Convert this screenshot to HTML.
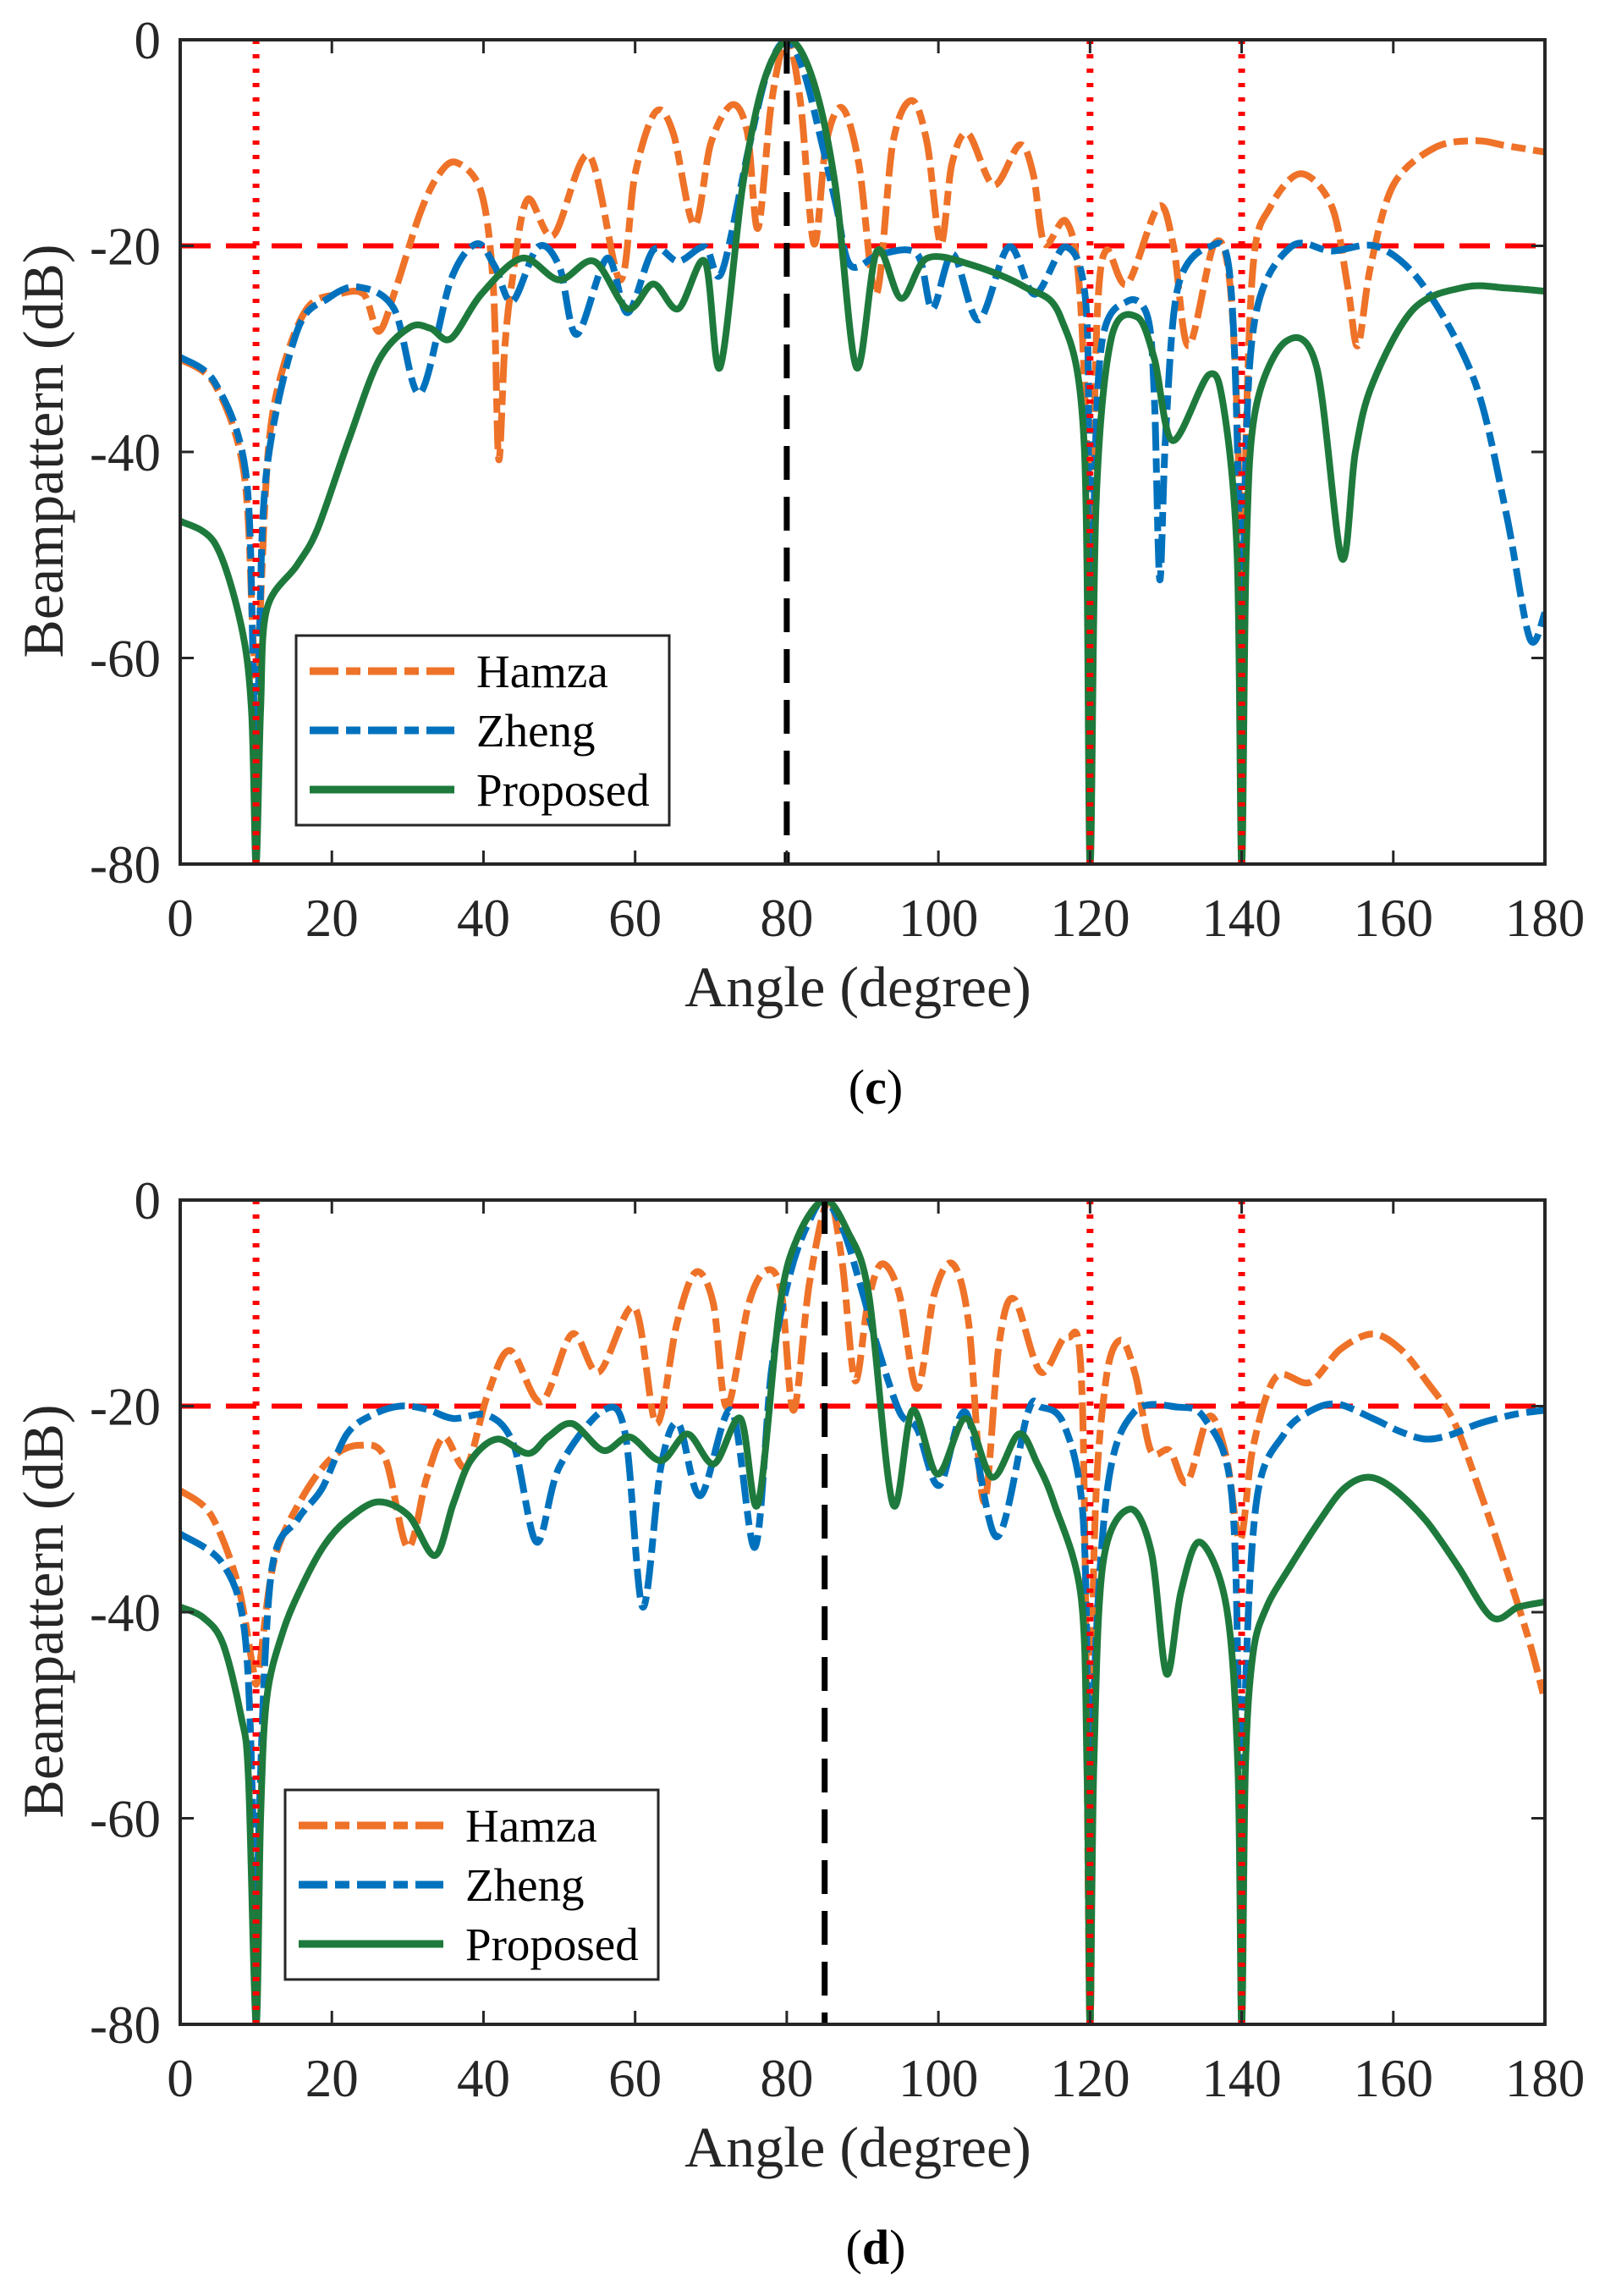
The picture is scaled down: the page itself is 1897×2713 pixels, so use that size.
<!DOCTYPE html>
<html><head><meta charset="utf-8">
<style>
html,body{margin:0;padding:0;background:#fff;}
svg{display:block;font-family:"Liberation Serif",serif;}
</style></head>
<body>
<svg id="chart" width="1897" height="2713" viewBox="0 0 1897 2713" xmlns="http://www.w3.org/2000/svg"></svg>
<script>
// ---------- data ----------
const xTicks = [0,20,40,60,80,100,120,140,160,180];
const yTicks = [0,-20,-40,-60,-80];
const nullAngles = [10,120,140];
const threshold = -20;
const steerC = 80;
const steerD = 85;

const hamzaC = [[0,-31],[4.6,-33.5],[8.4,-42],[9.6,-58],[10,-62],[10.4,-58],[11.6,-40],[13.5,-32],[16.8,-26],[20.8,-24.7],[24.2,-24.7],[26.2,-28.3],[28.5,-24],[31.6,-16.9],[34,-13.2],[36.4,-11.9],[39.7,-14.8],[41.3,-24],[42,-40.7],[42.8,-30],[43.8,-23.3],[45.8,-15.5],[49.2,-19],[53.9,-11.2],[58,-23.3],[60,-13],[62.7,-7],[65,-9],[67.8,-18],[70,-10],[72.8,-6.3],[74.8,-9],[76.2,-18.3],[78,-6],[80,0],[81.8,-6],[83.6,-19.8],[85.2,-10],[87.3,-6.6],[89.5,-12],[91.8,-24.7],[94,-10],[96.5,-5.9],[98.5,-10],[100.3,-19.8],[101.8,-12],[103.9,-9.1],[107.3,-14.1],[110.7,-10.2],[112.5,-13],[114,-19.8],[116.8,-17.6],[118.6,-24],[119.7,-45],[120,-80],[120.4,-45],[121,-26],[122.2,-20.4],[124.9,-23.7],[129,-16.2],[131,-20],[133,-29.7],[136.4,-19.8],[138.5,-24],[139.7,-45],[140,-80],[140.4,-45],[141.5,-22],[143.8,-16.2],[147.8,-13],[151.9,-16.2],[154,-24],[155.3,-29.7],[157,-22],[160,-14.1],[165.4,-10.5],[170.8,-9.8],[175,-10.3],[180,-10.9]];
const zhengC = [[0,-30.8],[4.6,-33.3],[8.6,-41.8],[9.6,-60],[10,-80],[10.4,-60],[11.4,-41.8],[15.4,-28.3],[19.5,-25.1],[23.5,-24],[28.2,-26.1],[31.6,-34.3],[35.7,-23.3],[39.1,-19.8],[41.5,-22],[43.8,-25.4],[47.2,-20.1],[50,-22],[52.3,-28.6],[56.3,-21.2],[59,-26.5],[62.4,-20.4],[65.7,-21.5],[69.2,-20.1],[71.4,-22.6],[75,-10.5],[77.5,-3],[80,0],[82.2,-3],[84.3,-9],[86.5,-16],[88.4,-21.9],[92.4,-20.8],[97.2,-20.8],[99.2,-26.1],[101.9,-20.8],[105.3,-27.2],[109.3,-20.1],[112.7,-24.7],[116.8,-20.1],[119.5,-26.1],[119.8,-50],[120,-80],[120.4,-50],[121.5,-29.7],[124.9,-25.4],[127.6,-26.9],[128.5,-35],[129.2,-52.4],[130,-38],[131.6,-24],[135.7,-20.1],[138.4,-22.6],[139.6,-45],[140,-80],[140.4,-45],[141.8,-26.9],[146.5,-20.1],[151.9,-20.5],[158,-20.1],[164.1,-24],[170.8,-33.3],[174.9,-46],[178,-58.1],[180,-55.6]];
const proposedC = [[0,-46.7],[4.6,-48.9],[8,-56.7],[9.4,-65],[10,-80],[10.6,-65],[11.4,-55.3],[15.4,-51],[18.1,-47.5],[22.2,-38.9],[26.2,-31.1],[30.3,-27.9],[33,-28],[35.7,-29],[39.7,-24.7],[45.1,-21.2],[50,-23.3],[54.6,-21.5],[59,-26.1],[62.4,-23.7],[65.7,-26.1],[69.2,-21.5],[71.2,-31.8],[74.2,-14.1],[77,-4],[80.3,0],[83.5,-4],[86.4,-14.1],[89.2,-31.8],[91.9,-20.5],[95.1,-25.1],[98.5,-21.2],[104.6,-21.9],[111.4,-24],[116.1,-26.9],[119.2,-38.9],[120,-80],[120.8,-45],[122.8,-29],[126.2,-26.9],[128.5,-31],[130.9,-38.9],[135.7,-32.5],[137.7,-36],[139.4,-50],[140,-80],[140.6,-50],[141.8,-36],[145.8,-29.3],[149.9,-31.8],[153.2,-50.3],[155,-40],[157.3,-33.3],[162.7,-26.1],[169.5,-24],[175,-24.1],[180,-24.4]];

const hamzaD = [[0,-28.2],[4,-30.5],[7.5,-37],[9.5,-45],[10,-47],[10.5,-45],[12.4,-35],[16,-29],[20,-25],[23.7,-23.8],[27,-25],[30,-33.7],[32.5,-27],[34.8,-23],[37.7,-25.9],[40.5,-19],[43.5,-14.6],[47.6,-19.6],[51.7,-13],[55.2,-16.7],[59.9,-10.4],[62.8,-21.7],[65.5,-12],[68,-7],[70.3,-10],[72.1,-20.1],[75,-10],[77.4,-6.8],[79.3,-9],[80.9,-20.4],[83,-8],[85.5,0],[87.3,-6],[89,-17.5],[90.7,-10],[92.5,-6.2],[94.8,-9],[97.2,-18.3],[99.5,-9],[101.9,-6.2],[104,-12],[106,-29.3],[108,-14],[110,-9.6],[113.5,-16.7],[117,-13.3],[119,-20],[120,-80],[120.5,-35],[122,-18],[124,-13.6],[126,-17],[128,-24.3],[130.5,-24.3],[132.8,-27.4],[135.7,-21],[138,-25],[139.8,-33],[141.5,-24],[144.5,-17.2],[149,-17.7],[153,-14.5],[157.3,-13],[161,-14.5],[164.3,-17.5],[168,-21.5],[171.3,-28],[175,-36],[178,-43],[180,-48.6]];
const zhengD = [[0,-32.4],[5.6,-35.3],[8.5,-42],[9.6,-60],[10,-80],[10.4,-60],[12,-36.3],[15.5,-31],[18.7,-28],[22,-22.7],[25.5,-20.8],[29,-20],[32.5,-20.3],[36,-21.2],[40.6,-20.9],[44,-23.8],[47,-33.2],[50,-25.9],[55.8,-20.4],[58.7,-22.7],[61,-39.5],[63.4,-25.9],[65.7,-21.7],[68.6,-28.7],[72.7,-20.4],[75.8,-33.7],[78,-16.4],[80.5,-7],[83,-2],[85,0],[87.5,-3],[90,-9],[92,-14.3],[94.9,-20.6],[97.2,-22.2],[100.1,-27.7],[103.6,-20.6],[107.7,-32.7],[111.8,-20.6],[113.5,-20.1],[116.5,-21.7],[119,-30],[119.7,-50],[120,-80],[120.4,-50],[122.3,-28],[125.8,-20.6],[131.6,-20.1],[135.1,-21.2],[138.6,-28],[139.6,-50],[140,-80],[140.4,-50],[142,-29],[145.6,-22.7],[149,-20.5],[152.6,-19.8],[157.3,-21.2],[161,-22.5],[164.3,-23.2],[167.5,-22.8],[171.3,-21.7],[176,-20.8],[180,-20.4]];
const proposedD = [[0,-39.5],[3,-40.5],[5.6,-43],[8,-50],[9,-56],[10,-80],[10.6,-60],[11.4,-48.4],[13.5,-42],[16.1,-37.4],[19,-33.5],[21.9,-31.1],[26,-29.3],[30.1,-30.6],[33.6,-34.5],[36,-29.5],[38.3,-25.3],[41.8,-23.2],[45.9,-24.6],[48.5,-23],[51.7,-21.7],[55.8,-24.3],[59.3,-23],[63.4,-25.3],[66.9,-22.7],[70.4,-25.6],[73.9,-21.2],[76.2,-29.5],[79.1,-10.2],[81.5,-3.5],[85,0],[88,-3],[90.8,-9.1],[94,-29.5],[96.6,-20.4],[99.9,-26.6],[103.6,-21.2],[107.1,-26.9],[110.6,-22.7],[113,-25.5],[115.3,-29.5],[118.8,-38.4],[119.6,-55],[120,-80],[120.5,-55],[121.7,-35.3],[125.2,-30],[128.1,-34.2],[130.1,-46],[132,-38],[134.5,-33.2],[138,-39.5],[139.5,-55],[140,-80],[140.5,-55],[141.5,-44],[143.3,-39.5],[146.2,-35.8],[150.3,-31.1],[153.5,-28],[156.7,-26.9],[160,-28],[164.3,-31.1],[168.5,-35.5],[173,-40.5],[176.5,-39.5],[180,-39]];

// ---------- drawing ----------
const NS = "http://www.w3.org/2000/svg";
const svg = document.getElementById("chart");
function mk(tag, attrs, parent){
  const e = document.createElementNS(NS, tag);
  for (const k in attrs) e.setAttribute(k, attrs[k]);
  (parent||svg).appendChild(e);
  return e;
}
function smoothPath(pts){
  let d = "M" + pts[0][0].toFixed(1) + "," + pts[0][1].toFixed(1);
  for (let i=0;i<pts.length-1;i++){
    const p0 = pts[Math.max(0,i-1)], p1 = pts[i], p2 = pts[i+1], p3 = pts[Math.min(pts.length-1,i+2)];
    const t = 0.16;
    const c1x = p1[0]+(p2[0]-p0[0])*t, c1y = p1[1]+(p2[1]-p0[1])*t;
    const c2x = p2[0]-(p3[0]-p1[0])*t, c2y = p2[1]-(p3[1]-p1[1])*t;
    d += " C"+c1x.toFixed(1)+","+c1y.toFixed(1)+" "+c2x.toFixed(1)+","+c2y.toFixed(1)+" "+p2[0].toFixed(1)+","+p2[1].toFixed(1);
  }
  return d;
}

const L = 213, R = 1826, PH = 974;
const ORANGE = "#EE7228", BLUE = "#0072BD", GREEN = "#1E7A3C", AX = "#262626";

function drawPlot(id, top, steer, hamza, zheng, proposed, legX, legY, letter){
  const B = top + PH;
  const xs = a => L + (a/180)*(R-L);
  const ys = v => top + (-v/80)*PH;
  const g = mk("g", {});
  
  
  const clipId = "clip"+id;
  const cp = mk("clipPath", {id: clipId}, g);
  mk("rect", {x:L, y:top, width:R-L, height:PH}, cp);

  const th = mk("line", {x1:L, x2:R, y1:ys(threshold), y2:ys(threshold), stroke:"#FF0000", "stroke-width":6, "stroke-dasharray":"36 18"}, g);
  
  

  const series = [
    {d:hamza, c:ORANGE, dash:"34 9 17 9", n:"hamza-line"},
    {d:zheng, c:BLUE, dash:"34 9 17 9", n:"zheng-line"},
    {d:proposed, c:GREEN, dash:null, n:"proposed-line"}
  ];
  series.forEach(s=>{
    const pts = s.d.map(p=>[xs(p[0]), ys(p[1])]);
    const attrs = {d:smoothPath(pts), fill:"none", stroke:s.c, "stroke-width":8, "stroke-linejoin":"round", "clip-path":"url(#"+clipId+")"};
    if (s.dash) attrs["stroke-dasharray"] = s.dash;
    const p = mk("path", attrs, g);
    
    
  });
  nullAngles.forEach(a=>{
    const l = mk("line", {x1:xs(a), x2:xs(a), y1:top, y2:B, stroke:"#FF0000", "stroke-width":8, "stroke-dasharray":"5 12"}, g);
    
    
  });
  const st = mk("line", {x1:xs(steer), x2:xs(steer), y1:top, y2:B, stroke:"#000", "stroke-width":7, "stroke-dasharray":"40 20"}, g);
  
  

  const fr = mk("rect", {x:L, y:top, width:R-L, height:PH, fill:"none", stroke:AX, "stroke-width":4}, g);
  
  
  xTicks.forEach(t=>{
    const x = xs(t);
    mk("line", {x1:x, x2:x, y1:B, y2:B-16, stroke:AX, "stroke-width":3}, g);
    mk("line", {x1:x, x2:x, y1:top, y2:top+16, stroke:AX, "stroke-width":3}, g);
    const tx = mk("text", {x:x, y:B+85, "font-size":63, fill:AX, "text-anchor":"middle"}, g);
    tx.textContent = t;
    
    
  });
  yTicks.forEach(t=>{
    const y = ys(t);
    mk("line", {x1:L, x2:L+16, y1:y, y2:y, stroke:AX, "stroke-width":3}, g);
    mk("line", {x1:R, x2:R-16, y1:y, y2:y, stroke:AX, "stroke-width":3}, g);
    const ty = mk("text", {x:190, y:y+22, "font-size":63, fill:AX, "text-anchor":"end"}, g);
    ty.textContent = t;
    
    
  });
  const xt = mk("text", {x:1014, y:B+168, "font-size":68, fill:AX, "text-anchor":"middle"}, g);
  xt.textContent = "Angle (degree)";
  
  
  const yt = mk("text", {x:0, y:0, "font-size":68, fill:AX, "text-anchor":"middle", transform:"translate(74,"+(top+486)+") rotate(-90)"}, g);
  yt.textContent = "Beampattern (dB)";
  
  

  const lg = mk("g", {}, g);
  
  
  mk("rect", {x:legX, y:legY, width:441, height:224, fill:"#fff", stroke:AX, "stroke-width":3}, lg);
  const names = ["Hamza","Zheng","Proposed"];
  series.forEach((s,i)=>{
    const yy = legY + 42 + i*70;
    const la = {x1:legX+16, x2:legX+187, y1:yy, y2:yy, stroke:s.c, "stroke-width":9};
    if (s.dash) la["stroke-dasharray"] = "34 9 17 9";
    mk("line", la, lg);
    const lt = mk("text", {x:legX+213, y:yy+19, "font-size":55, fill:"#000"}, lg);
    lt.textContent = names[i];
    
    
  });

  const cap = mk("text", {x:1035, y:B+283, "font-size":58, fill:"#000", "text-anchor":"middle"}, g);
  
  
  const t1 = mk("tspan", {}, cap); t1.textContent = "(";
  const t2 = mk("tspan", {"font-weight":"bold"}, cap); t2.textContent = letter;
  const t3 = mk("tspan", {}, cap); t3.textContent = ")";
}

drawPlot("c", 47, steerC, hamzaC, zhengC, proposedC, 350, 751, "c");
drawPlot("d", 1418, steerD, hamzaD, zhengD, proposedD, 337, 2115, "d");
</script>
</body></html>
